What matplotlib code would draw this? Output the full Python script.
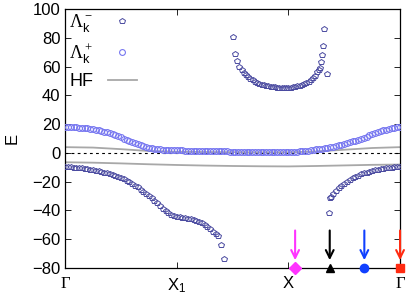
import numpy as np
import matplotlib
matplotlib.use("Agg")
import matplotlib.pyplot as plt
from matplotlib.lines import Line2D

plt.rcParams['font.family'] = ['Liberation Sans', 'DejaVu Sans']
plt.rcParams['mathtext.fontset'] = 'custom'
plt.rcParams['mathtext.rm'] = 'Liberation Serif'
plt.rcParams['mathtext.it'] = 'Liberation Sans'
plt.rcParams['mathtext.sf'] = 'Liberation Sans'

# upper band (Lambda+), k grid 0..3 step 0.025
k_up = np.round(np.arange(0, 3.0001, 0.025), 3)
e_up = [18.0, 18.0, 17.9, 17.8, 17.7, 17.6, 17.4, 17.2, 17.0, 16.8,
        16.5, 16.2, 15.8, 15.3, 14.8, 14.2, 13.6, 12.9, 12.2, 11.5,
        10.8, 10.0, 9.2, 8.4, 7.6, 6.8, 6.0, 5.3, 4.6, 4.0,
        3.5, 3.1, 2.8, 2.6, 2.4, 2.2, 2.1, 2.0, 1.9, 1.85,
        1.8, 1.75, 1.7, 1.65, 1.6, 1.55, 1.5, 1.45, 1.4, 1.35,
        1.3, 1.25, 1.2, 1.15, 1.1, 1.05, 1.0, 1.0, 1.0, 0.95,
        0.9, 0.9, 0.9, 0.85, 0.8, 0.8, 0.8, 0.8, 0.8, 0.75,
        0.7, 0.7, 0.7, 0.7, 0.7, 0.7, 0.7, 0.7, 0.7, 0.7,
        0.7, 0.75, 0.8, 0.9, 1.0, 1.15, 1.3, 1.55, 1.8, 2.1,
        2.4, 2.7, 3.0, 3.3, 3.6, 4.0, 4.4, 4.85, 5.3, 5.8,
        6.3, 6.85, 7.4, 8.0, 8.6, 9.2, 9.8, 10.5, 11.2, 12.1,
        13.0, 13.8, 14.5, 15.1, 15.6, 16.1, 16.6, 17.0, 17.4, 17.7,
        18.0]

# lower band left (Lambda-)
k_lo_left = list(np.round(np.arange(0, 1.3501, 0.025), 3)) + [1.37, 1.40, 1.42]
e_lo_left = [-10.0, -10.0, -10.1, -10.2, -10.3, -10.5, -10.7, -11.0, -11.3, -11.6,
             -12.0, -12.4, -12.8, -13.3, -13.8, -14.3, -14.8, -15.4, -16.0, -16.7,
             -17.5, -18.4, -19.3, -20.4, -21.5, -22.7, -24.0, -25.5, -27.0, -28.5,
             -30.0, -31.6, -33.3, -35.1, -37.0, -38.8, -40.5, -41.9, -43.0, -43.8,
             -44.5, -44.9, -45.2, -45.5, -45.8, -46.2, -46.6, -47.2, -48.0, -49.0,
             -50.0, -51.4, -53.0, -54.7, -56.5,
             -58.0, -64.0, -74.0]

# lower band right (Lambda-)
k_lo_right = [2.36, 2.37, 2.38] + list(np.round(np.arange(2.4, 3.0001, 0.025), 3))
e_lo_right = [-42.0, -31.5, -30.5,
              -28.5, -26.4, -24.5, -22.9, -21.5, -20.1, -18.8, -17.7, -16.7, -15.8,
              -15.0, -14.3, -13.7, -13.1, -12.6, -12.2, -11.8, -11.4, -11.0, -10.7,
              -10.5, -10.3, -10.1, -9.9, -9.8]

# upper arc (Lambda-)
k_arc = [1.50, 1.52, 1.54, 1.56, 1.58, 1.60, 1.62, 1.64, 1.66, 1.68,
         1.70, 1.72, 1.74, 1.76, 1.78, 1.80, 1.82, 1.84, 1.86, 1.88,
         1.90, 1.92, 1.94, 1.96, 1.98, 2.00, 2.02, 2.04, 2.06, 2.08,
         2.10, 2.12, 2.14, 2.16, 2.18, 2.20, 2.22, 2.24, 2.26, 2.27,
         2.28, 2.29, 2.30, 2.31, 2.32, 2.35]
e_arc = [80.5, 69.0, 64.0, 60.0, 57.6, 55.5, 54.0, 52.7, 51.5, 50.4,
         49.5, 48.8, 48.1, 47.5, 47.0, 46.6, 46.3, 46.0, 45.8, 45.6,
         45.4, 45.3, 45.2, 45.1, 45.0, 45.0, 45.2, 45.5, 45.9, 46.3,
         46.8, 47.4, 48.0, 48.8, 49.6, 50.5, 51.8, 53.5, 56.0, 57.5,
         59.0, 63.0, 68.0, 74.0, 86.0, 55.0]

# Hartree-Fock bands
k_hf = [0.0, 0.25, 0.5, 0.75, 1.0, 1.25, 1.5, 1.75, 2.0, 2.25, 2.5, 2.75, 3.0]
e_hf_up = [4.0, 3.7, 2.6, 1.3, 0.8, 0.6, 0.5, 0.4, 0.4, 1.0, 2.2, 3.4, 4.0]
e_hf_lo = [-6.5, -6.8, -7.3, -7.9, -8.4, -8.8, -9.1, -9.3, -9.4, -9.1, -8.7, -8.3, -8.1]

# marked k points
k_marks = [2.06, 2.37, 2.68, 3.0]
mark_colors = ['#ff33ff', '#000000', '#1040ff', '#ff2a10']
mark_shapes = ['D', '^', 'o', 's']

xtick_pos = [0, 1, 2, 3]
xtick_lab = [r'$\Gamma$', r'X$_{\mathsf{1}}$', 'X', r'$\Gamma$']

c_plus = '#7777f0'
c_minus = '#4a4aa0'
c_hf = '#a8a8a8'

fig = plt.figure(figsize=(4.15, 2.98), dpi=100)
ax = fig.add_axes([0.157, 0.1007, 0.807, 0.869])

ax.axhline(0, color='k', lw=0.8, ls=(0, (2.5, 3)), zorder=1)
ax.plot(k_hf, e_hf_up, color=c_hf, lw=1.3, zorder=2)
ax.plot(k_hf, e_hf_lo, color=c_hf, lw=1.3, zorder=2)

ax.plot(k_up, e_up, ls='none', marker='o', ms=4.2, mfc='none', mec=c_plus, mew=0.8, zorder=3)
for kk, ee in [(k_lo_left, e_lo_left), (k_lo_right, e_lo_right), (k_arc, e_arc)]:
    ax.plot(kk, ee, ls='none', marker='p', ms=4.0, mfc='none', mec=c_minus, mew=0.7, zorder=3)

for k, c, m in zip(k_marks, mark_colors, mark_shapes):
    ax.annotate('', xy=(k, -76.5), xytext=(k, -52),
                arrowprops=dict(arrowstyle='->', color=c, lw=1.5, mutation_scale=14))
    ax.plot([k], [-80], marker=m, color=c, ms=6, clip_on=False, zorder=5)

ax.set_xlim(0, 3)
ax.set_ylim(-80, 100)
ax.set_yticks(np.arange(-80, 101, 20))
ax.set_xticks(xtick_pos)
ax.set_xticklabels(xtick_lab)
ax.tick_params(direction='in', top=True, right=True, labelsize=12, length=4, width=0.6)
ax.tick_params(axis='x', pad=6)
for sp in ax.spines.values():
    sp.set_linewidth(0.9)
ax.set_ylabel('E', fontsize=12, labelpad=9)

handles = [
    Line2D([], [], ls='none', marker='p', ms=4.0, mfc='none', mec=c_minus, mew=0.7),
    Line2D([], [], ls='none', marker='o', ms=4.2, mfc='none', mec=c_plus, mew=0.8),
    Line2D([], [], color=c_hf, lw=1.3),
]
ax.legend(handles, [r'$\Lambda_k^-$', r'$\Lambda_k^+$', 'HF'], loc='upper left',
          frameon=False, markerfirst=False, fontsize=13, handlelength=1.6,
          handletextpad=0.8, labelspacing=0.4, borderaxespad=0.2,
          bbox_to_anchor=(-0.02, 1.03))

fig.savefig('out.png', dpi=100)
